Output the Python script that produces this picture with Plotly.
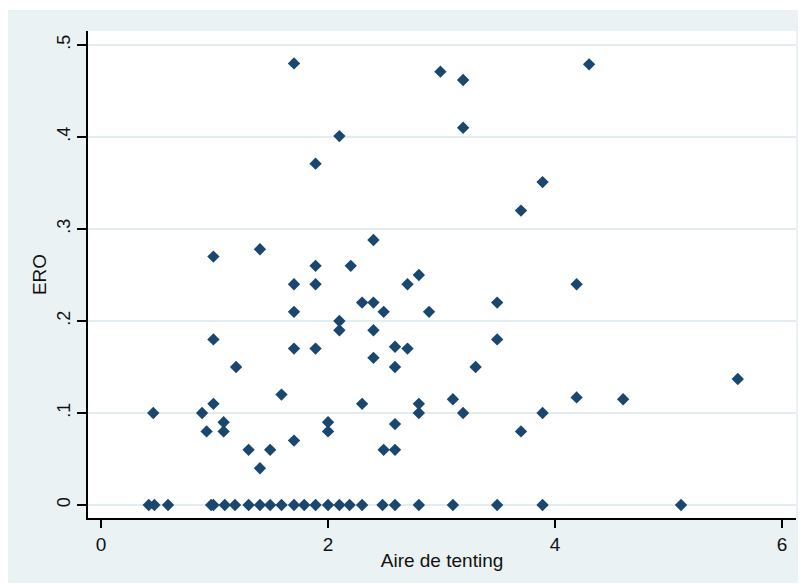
import plotly.graph_objects as go

# Data
aire_zero = [0.42, 0.47, 0.59, 0.97, 0.99, 1.09, 1.18, 1.30, 1.40, 1.49, 1.59, 1.70,
             1.79, 1.89, 2.00, 2.10, 2.19, 2.30, 2.48, 2.59, 2.80, 3.10, 3.49, 3.89, 5.11]
ero_zero = [0.0] * len(aire_zero)

aire_pos = [1.70, 2.99, 3.19, 4.30, 3.19, 2.10, 1.89, 3.89, 3.70, 2.40, 1.40, 0.99,
            1.89, 2.20, 2.80, 1.70, 1.89, 2.70, 4.19, 2.30, 2.40, 3.49, 1.70, 2.49,
            2.89, 2.10, 2.10, 2.40, 0.99, 3.49, 2.59, 1.70, 1.89, 2.70, 2.40, 1.19,
            2.59, 3.30, 5.61, 1.59, 4.19, 3.10, 4.60, 0.99, 2.30, 2.80, 0.46, 0.89,
            2.80, 3.19, 3.89, 1.08, 2.00, 2.59, 0.93, 1.08, 2.00, 3.70, 1.70, 1.30,
            1.49, 2.49, 2.59, 1.40]
ero_pos = [0.480, 0.471, 0.462, 0.479, 0.410, 0.401, 0.371, 0.351, 0.320, 0.288, 0.278, 0.270,
           0.260, 0.260, 0.250, 0.240, 0.240, 0.240, 0.240, 0.220, 0.220, 0.220, 0.210, 0.210,
           0.210, 0.200, 0.190, 0.190, 0.180, 0.180, 0.172, 0.170, 0.170, 0.170, 0.160, 0.150,
           0.150, 0.150, 0.137, 0.120, 0.117, 0.115, 0.115, 0.110, 0.110, 0.110, 0.100, 0.100,
           0.100, 0.100, 0.100, 0.090, 0.090, 0.088, 0.080, 0.080, 0.080, 0.080, 0.070, 0.060,
           0.060, 0.060, 0.060, 0.040]

aire_tenting = aire_zero + aire_pos
ero = ero_zero + ero_pos

x_ticks = [0, 2, 4, 6]
x_tick_labels = ["0", "2", "4", "6"]
y_ticks = [0, 0.1, 0.2, 0.3, 0.4, 0.5]
y_tick_labels = ["0", ".1", ".2", ".3", ".4", ".5"]

BG = "#EAF2F3"
NAVY = "#1A476F"
FONT = "Liberation Sans, Arial, sans-serif"

# the page body adds an 8px offset; figure is sized so the plot lands in place
W, H = 798, 580
L, R, T, B = 80, 10, 23, 70
PW, PH = W - L - R, H - T - B

fig = go.Figure()
fig.add_trace(go.Scatter(
    x=aire_tenting, y=ero, mode="markers",
    marker=dict(symbol="diamond", size=9.5, color=NAVY, line=dict(width=0)),
    showlegend=False, hoverinfo="x+y",
))

fig.update_layout(
    width=W, height=H,
    margin=dict(l=L, r=R, t=T, b=B, autoexpand=False),
    paper_bgcolor=BG, plot_bgcolor="white",
    font=dict(family=FONT, size=19, color="#111111"),
    xaxis=dict(
        range=[-0.115, 6.123], tickvals=x_ticks, ticktext=x_tick_labels,
        showgrid=False, zeroline=False, showline=True, linecolor="#000000", linewidth=1.5,
        ticks="outside", ticklen=8, tickwidth=1.5, tickcolor="#000000",
        tickfont=dict(size=19), automargin=False,
        title=dict(text="Aire de tenting", font=dict(size=19), standoff=0),
    ),
    yaxis=dict(
        range=[-0.0141, 0.5152], tickvals=y_ticks, ticktext=y_tick_labels,
        showgrid=True, gridcolor="#E3ECEF", gridwidth=1.5,
        zeroline=False, showline=True, linecolor="#000000", linewidth=1.5,
        ticks="outside", ticklen=9, tickwidth=1.5, tickcolor="#000000",
        tickangle=-90, tickfont=dict(size=18), automargin=False,
        title=dict(text="ERO", font=dict(size=19), standoff=2),
    ),
    shapes=[
        # white strips around the grey graph region
        dict(type="rect", xref="paper", yref="paper", x0=-0.2, x1=1.1,
             y0=(PH + T - 2) / PH, y1=1.2, fillcolor="white", line=dict(width=0), layer="below"),
        dict(type="rect", xref="paper", yref="paper", x0=-0.2, x1=1.1,
             y0=-0.2, y1=-(575 - (T + PH)) / PH, fillcolor="white", line=dict(width=0), layer="below"),
    ],
)

fig.write_html("out.html")
